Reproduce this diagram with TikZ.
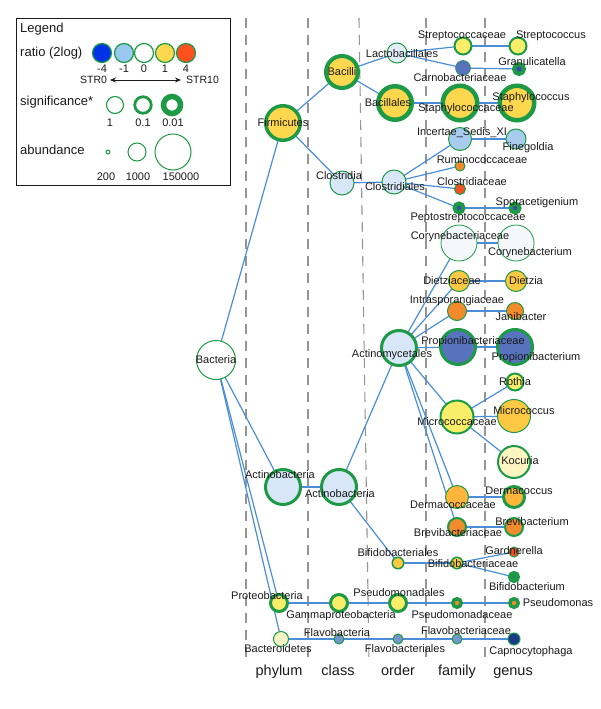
\documentclass[tikz,border=0pt]{standalone}
\usepackage{fontspec}
\setmainfont{Liberation Sans}
\usetikzlibrary{arrows.meta}
\pgfdeclarelayer{bg}
\pgfsetlayers{bg,main}
\definecolor{grn}{HTML}{1E9A46}
\definecolor{edg}{HTML}{4A8ED8}
\definecolor{gry}{HTML}{959595}
\definecolor{txt}{HTML}{1A1A1A}
\definecolor{cYel}{HTML}{FDD84E}
\definecolor{cLYel}{HTML}{F8EE6A}
\definecolor{cPale}{HTML}{FFF5C2}
\definecolor{cBact}{HTML}{F6F4C4}
\definecolor{cOYel}{HTML}{FDC843}
\definecolor{cDerm}{HTML}{FDB53C}
\definecolor{cOrg}{HTML}{F28A2E}
\definecolor{cRed}{HTML}{EE5222}
\definecolor{cLBlue}{HTML}{D7E7F7}
\definecolor{cVLBlue}{HTML}{E4EEF9}
\definecolor{cVPale}{HTML}{F4F8FC}
\definecolor{cMBlue}{HTML}{A8CCEE}
\definecolor{cBlue}{HTML}{5873BD}
\definecolor{cDot}{HTML}{3A4CA8}
\definecolor{cFlav}{HTML}{7396CC}
\definecolor{cNavy}{HTML}{1C3A8A}
\definecolor{cL4}{HTML}{0033E8}
\definecolor{cL1}{HTML}{99C8F0}
\definecolor{cL1p}{HTML}{FDD84E}
\definecolor{cL4p}{HTML}{FF5020}
\begin{document}
\begin{tikzpicture}[x=1pt,y=-1pt,
  bub/.style n args={3}{circle,inner sep=0pt,minimum size=#1,fill=#2,draw=grn,line width=#3},
  lab/.style={font=\fontsize{11}{13}\selectfont,text=txt,inner sep=0pt,text height=1.5ex,text depth=.25ex},
  leg/.style={font=\fontsize{13}{15}\selectfont,text=txt,inner sep=0pt,anchor=west,text height=1.5ex,text depth=.25ex},
  legnum/.style={font=\fontsize{11}{13}\selectfont,text=txt,inner sep=0pt,text height=1.5ex,text depth=.25ex},
  axis/.style={font=\fontsize{14.5}{16}\selectfont,text=txt,inner sep=0pt,text height=1.5ex,text depth=.25ex},
  edge/.style={draw=edg,line width=1.2pt},
  guide/.style={draw=gry,line width=1.1pt,dash pattern=on 10pt off 7pt}]
\useasboundingbox (0,0) rectangle (600,709);

% ---------- legend ----------
\node[draw=txt,line width=1.1pt,minimum width=214pt,minimum height=167pt,inner sep=0pt,anchor=north west] (legbox) at (16,18) {};
\node[leg] (lgt) at (20,29) {Legend};
\node[leg] (lrt) at (20,53) {ratio (2log)};
\node[bub={19pt}{cL4}{1.2pt}] (r1) at (102,53) {};
\node[bub={19pt}{cL1}{1.2pt}] (r2) at (124,53) {};
\node[bub={19pt}{white}{1.2pt}] (r3) at (144,53) {};
\node[bub={19pt}{cL1p}{1.2pt}] (r4) at (165,53) {};
\node[bub={19pt}{cL4p}{1.2pt}] (r5) at (186,53) {};
\node[legnum] (n1) at (102,69) {-4};
\node[legnum] (n2) at (124,69) {-1};
\node[legnum] (n3) at (144,69) {0};
\node[legnum] (n4) at (165,69) {1};
\node[legnum] (n5) at (186,69) {4};
\node[legnum,font=\fontsize{10.5}{12}\selectfont,anchor=west] (s0) at (80,80) {STR0};
\node[legnum,font=\fontsize{10.5}{12}\selectfont,anchor=west] (s10) at (186,80) {STR10};
\coordinate (sa) at (110,80);
\coordinate (sb) at (181,80);
\draw[{Stealth[length=6pt,width=5pt]}-{Stealth[length=6pt,width=5pt]},line width=0.8pt,draw=txt] (sa) -- (sb);
\node[leg] (lsg) at (20,102) {significance*};
\node[bub={17pt}{white}{1.1pt}] (g1) at (115,105) {};
\node[bub={16.5pt}{white}{2.8pt}] (g2) at (143,105) {};
\node[bub={17pt}{white}{5.5pt}] (g3) at (172,105) {};
\node[legnum] (gn1) at (110,123) {1};
\node[legnum] (gn2) at (143,123) {0.1};
\node[legnum] (gn3) at (173,123) {0.01};
\node[leg] (lab) at (20,151) {abundance};
\node[bub={4pt}{white}{1pt}] (a1) at (108,152) {};
\node[bub={18pt}{white}{1pt}] (a2) at (137,152) {};
\node[bub={36pt}{white}{1pt}] (a3) at (173,152) {};
\node[legnum] (an1) at (106,177) {200};
\node[legnum] (an2) at (138,177) {1000};
\node[legnum] (an3) at (181,177) {150000};

% ---------- guides ----------
\coordinate (q1t) at (246,18); \coordinate (q1b) at (246,661);
\coordinate (q2t) at (308,18); \coordinate (q2b) at (308,661);
\coordinate (q3t) at (359,18); \coordinate (q3b) at (369,661);
\coordinate (q4t) at (426,18); \coordinate (q4b) at (426,661);
\coordinate (q5t) at (485,18); \coordinate (q5b) at (485,661);
\begin{pgfonlayer}{bg}
\draw[guide] (q1t) -- (q1b);
\draw[guide] (q2t) -- (q2b);
\draw[guide] (q3t) -- (q3b);
\draw[guide] (q4t) -- (q4b);
\draw[guide] (q5t) -- (q5b);
\end{pgfonlayer}
\node[axis] (xph) at (279,672) {phylum};
\node[axis] (xcl) at (338,672) {class};
\node[axis] (xor) at (398,672) {order};
\node[axis] (xfa) at (457,672) {family};
\node[axis] (xge) at (513,672) {genus};

% ---------- bubbles ----------
\node[bub={39pt}{white}{1pt}] (bacteria) at (216,360) {};
\node[bub={34.5pt}{cYel}{3.5pt}] (firm) at (283,123) {};
\node[bub={35pt}{cLBlue}{3pt}] (actP) at (283,487) {};
\node[bub={17pt}{cLYel}{3pt}] (proteo) at (279,603) {};
\node[bub={15pt}{cBact}{1pt}] (bactd) at (281,639) {};
\node[bub={32pt}{cYel}{4pt}] (bacilli) at (342,72) {};
\node[bub={24pt}{cLBlue}{1pt}] (clostC) at (342,183) {};
\node[bub={35pt}{cLBlue}{3pt}] (actC) at (339,487) {};
\node[bub={17pt}{cLYel}{3pt}] (gamma) at (339,603) {};
\node[bub={10pt}{cFlav}{1pt}] (flavC) at (339,639) {};
\node[bub={20pt}{cVLBlue}{1pt}] (lacto) at (397,53) {};
\node[bub={33.5pt}{cYel}{4.5pt}] (bacillales) at (395,103) {};
\node[bub={24pt}{cLBlue}{1pt}] (clostO) at (394,182) {};
\node[bub={35pt}{cLBlue}{3pt}] (actino) at (399,348) {};
\node[bub={11.5pt}{cOYel}{1.5pt}] (bifO) at (398,563) {};
\node[bub={17pt}{cLYel}{3pt}] (pseuO) at (398,603) {};
\node[bub={10pt}{cFlav}{1pt}] (flavO) at (398,639) {};
% family
\node[bub={17pt}{cLYel}{2pt}] (strepF) at (463,46) {};
\node[bub={15pt}{cBlue}{0.6pt}] (carnoF) at (463,68) {};
\node[bub={34.5pt}{cYel}{4.5pt}] (staphF) at (460,103) {};
\node[bub={23pt}{cMBlue}{1pt}] (incF) at (460,139) {};
\node[bub={10pt}{cOrg}{1pt}] (rumF) at (460,166) {};
\node[bub={11pt}{cRed}{1pt}] (clostF) at (460,189) {};
\node[bub={9pt}{cDot}{4pt}] (peptF) at (459,208) {};
\node[bub={36pt}{cVPale}{0.8pt}] (coryF) at (459,243) {};
\node[bub={21pt}{cOYel}{1pt}] (dietF) at (459,281) {};
\node[bub={19pt}{cOrg}{1pt}] (intraF) at (457,311) {};
\node[bub={35pt}{cBlue}{3pt}] (propF) at (458,347) {};
\node[bub={33pt}{cLYel}{2pt}] (micF) at (457,417) {};
\node[bub={23pt}{cDerm}{1pt}] (dermF) at (457,497) {};
\node[bub={18pt}{cOrg}{2pt}] (brevF) at (457,527) {};
\node[bub={11.5pt}{cOYel}{1.5pt}] (bifF) at (457,563) {};
\node[bub={8.5pt}{cOrg}{3.5pt}] (pseuF) at (457,603) {};
\node[bub={10pt}{cFlav}{1pt}] (flavF) at (457,639) {};
% genus
\node[bub={17pt}{cLYel}{2pt}] (strepG) at (518,46) {};
\node[bub={10pt}{cDot}{4pt}] (granG) at (519,69) {};
\node[bub={34.5pt}{cYel}{4.5pt}] (staphG) at (517,103) {};
\node[bub={20pt}{cMBlue}{1pt}] (fineG) at (516,139) {};
\node[bub={9pt}{cDot}{4pt}] (sporG) at (515,208) {};
\node[bub={36pt}{cVPale}{0.8pt}] (coryG) at (516,243) {};
\node[bub={21pt}{cOYel}{1pt}] (dietG) at (516,281) {};
\node[bub={17pt}{cOrg}{1pt}] (janiG) at (515,311) {};
\node[bub={35pt}{cBlue}{3pt}] (propG) at (515,347) {};
\node[bub={17pt}{cLYel}{2pt}] (rothG) at (515,382) {};
\node[bub={33pt}{cOYel}{1pt}] (micG) at (514,416) {};
\node[bub={32pt}{cPale}{2pt}] (kocG) at (514,462) {};
\node[bub={21pt}{cDerm}{3pt}] (dermG) at (514,497) {};
\node[bub={18pt}{cOrg}{2pt}] (brevG) at (514,527) {};
\node[bub={10pt}{cRed}{1pt}] (gardG) at (514,552) {};
\node[bub={7pt}{cDot}{5pt}] (bifG) at (514,577) {};
\node[bub={8.5pt}{cOrg}{3.5pt}] (pseuG) at (514,603) {};
\node[bub={12pt}{cNavy}{1pt}] (capG) at (514,639) {};

% ---------- edges ----------
\begin{pgfonlayer}{bg}
\path[edge] (bacteria.center) -- (firm.center);
\path[edge] (bacteria.center) -- (actP.center);
\path[edge] (bacteria.center) -- (proteo.center);
\path[edge] (bacteria.center) -- (bactd.center);
\path[edge] (firm.center) -- (bacilli.center);
\path[edge] (firm.center) -- (clostC.center);
\path[edge] (bacilli.center) -- (lacto.center);
\path[edge] (bacilli.center) -- (bacillales.center);
\path[edge] (lacto.center) -- (strepF.center);
\path[edge] (lacto.center) -- (carnoF.center);
\path[edge] (strepF.center) -- (strepG.center);
\path[edge] (carnoF.center) -- (granG.center);
\path[edge] (bacillales.center) -- (staphF.center);
\path[edge] (staphF.center) -- (staphG.center);
\path[edge] (clostC.center) -- (clostO.center);
\path[edge] (clostO.center) -- (incF.center);
\path[edge] (clostO.center) -- (rumF.center);
\path[edge] (clostO.center) -- (clostF.center);
\path[edge] (clostO.center) -- (peptF.center);
\path[edge] (incF.center) -- (fineG.center);
\path[edge] (peptF.center) -- (sporG.center);
\path[edge] (actP.center) -- (actC.center);
\path[edge] (actC.center) -- (actino.center);
\path[edge] (actC.center) -- (bifO.center);
\path[edge] (actino.center) -- (coryF.center);
\path[edge] (actino.center) -- (dietF.center);
\path[edge] (actino.center) -- (intraF.center);
\path[edge] (actino.center) -- (propF.center);
\path[edge] (actino.center) -- (micF.center);
\path[edge] (actino.center) -- (dermF.center);
\path[edge] (actino.center) -- (brevF.center);
\path[edge] (coryF.center) -- (coryG.center);
\path[edge] (dietF.center) -- (dietG.center);
\path[edge] (intraF.center) -- (janiG.center);
\path[edge] (propF.center) -- (propG.center);
\path[edge] (micF.center) -- (rothG.center);
\path[edge] (micF.center) -- (micG.center);
\path[edge] (micF.center) -- (kocG.center);
\path[edge] (dermF.center) -- (dermG.center);
\path[edge] (brevF.center) -- (brevG.center);
\path[edge] (bifO.center) -- (bifF.center);
\path[edge] (bifF.center) -- (gardG.center);
\path[edge] (bifF.center) -- (bifG.center);
\path[edge] (proteo.center) -- (gamma.center);
\path[edge] (gamma.center) -- (pseuO.center);
\path[edge] (pseuO.center) -- (pseuF.center);
\path[edge] (pseuF.center) -- (pseuG.center);
\path[edge] (bactd.center) -- (flavC.center);
\path[edge] (flavC.center) -- (flavO.center);
\path[edge] (flavO.center) -- (flavF.center);
\path[edge] (flavF.center) -- (capG.center);
\end{pgfonlayer}

% ---------- labels ----------
\node[lab] (t1) at (216,360) {Bacteria};
\node[lab] (t2) at (283,123) {Firmicutes};
\node[lab] (t3) at (280,475) {Actinobacteria};
\node[lab] (t4) at (267,596) {Proteobacteria};
\node[lab] (t5) at (278,649) {Bacteroidetes};
\node[lab] (t6) at (342,72) {Bacilli};
\node[lab] (t7) at (339,176) {Clostridia};
\node[lab] (t8) at (340,494) {Actinobacteria};
\node[lab] (t9) at (341,615) {Gammaproteobacteria};
\node[lab] (t10) at (337,633) {Flavobacteria};
\node[lab] (t11) at (402,54) {Lactobacillales};
\node[lab] (t12) at (388,103) {Bacillales};
\node[lab] (t13) at (395,187) {Clostridiales};
\node[lab] (t14) at (392,354) {Actinomycetales};
\node[lab] (t15) at (398,553) {Bifidobacteriales};
\node[lab] (t16) at (399,593) {Pseudomonadales};
\node[lab] (t17) at (405,649) {Flavobacteriales};
\node[lab] (t18) at (462,35) {Streptococcaceae};
\node[lab] (t19) at (460,78) {Carnobacteriaceae};
\node[lab] (t20) at (466,108) {Staphylococcaceae};
\node[lab] (t21) at (462,132) {Incertae\_Sedis\_XI};
\node[lab] (t22) at (482,160) {Ruminococcaceae};
\node[lab] (t23) at (472,182) {Clostridiaceae};
\node[lab] (t24) at (468,217) {Peptostreptococcaceae};
\node[lab] (t25) at (460,236) {Corynebacteriaceae};
\node[lab] (t26) at (452,281) {Dietziaceae};
\node[lab] (t27) at (457,300) {Intrasporangiaceae};
\node[lab] (t28) at (473,341) {Propionibacteriaceae};
\node[lab] (t29) at (457,422) {Micrococcaceae};
\node[lab] (t30) at (453,505) {Dermacoccaceae};
\node[lab] (t31) at (458,533) {Brevibacteriaceae};
\node[lab] (t32) at (473,564) {Bifidobacteriaceae};
\node[lab] (t33) at (462,615) {Pseudomonadaceae};
\node[lab] (t34) at (466,631) {Flavobacteriaceae};
\node[lab] (t35) at (551,35) {Streptococcus};
\node[lab] (t36) at (532,62) {Granulicatella};
\node[lab] (t37) at (531,97) {Staphylococcus};
\node[lab] (t38) at (528,147) {Finegoldia};
\node[lab] (t39) at (537,202) {Sporacetigenium};
\node[lab] (t40) at (530,252) {Corynebacterium};
\node[lab] (t41) at (526,281) {Dietzia};
\node[lab] (t42) at (521,317) {Janibacter};
\node[lab] (t43) at (536,357) {Propionibacterium};
\node[lab] (t44) at (515,382) {Rothia};
\node[lab] (t45) at (524,411) {Micrococcus};
\node[lab] (t46) at (520,461) {Kocuria};
\node[lab] (t47) at (519,491) {Dermacoccus};
\node[lab] (t48) at (532,522) {Brevibacterium};
\node[lab] (t49) at (514,551) {Gardnerella};
\node[lab] (t50) at (527,587) {Bifidobacterium};
\node[lab] (t51) at (558,603) {Pseudomonas};
\node[lab] (t52) at (531,651) {Capnocytophaga};
\end{tikzpicture}
\end{document}
